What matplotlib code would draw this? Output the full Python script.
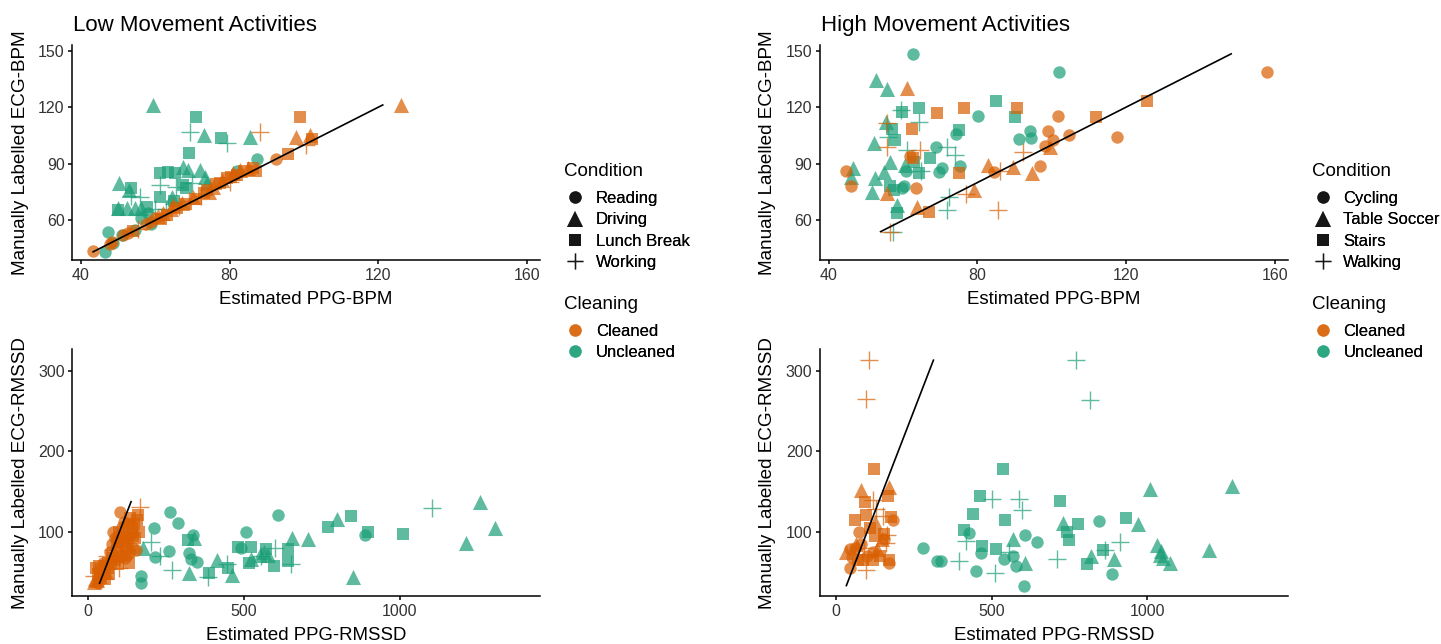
import numpy as np
import matplotlib
matplotlib.use('Agg')
import matplotlib.pyplot as plt
from matplotlib.lines import Line2D

plt.rcParams['font.family'] = ['Liberation Sans', 'DejaVu Sans']

# condition names, index 0..3 used in the point lists below
low_conditions = ['Reading', 'Driving', 'Lunch Break', 'Working']
high_conditions = ['Cycling', 'Table Soccer', 'Stairs', 'Walking']
cleaning_levels = ['Cleaned', 'Uncleaned']

# (estimated PPG, manually labelled ECG, condition index)
low_bpm_cleaned = [
    (43.3, 43.9, 0), (47.8, 47.5, 0), (48.5, 48.5, 0), (51.4, 52.2, 0), (52.7, 53.1, 0),
    (54.0, 54.5, 2), (55.5, 55.5, 3), (57.5, 57.8, 0), (59.0, 59.3, 0), (59.9, 61.0, 0),
    (60.8, 62.5, 1), (61.5, 60.5, 2), (62.1, 63.7, 1), (63.2, 62.8, 2), (64.3, 65.8, 1),
    (64.8, 68.1, 1), (65.8, 66.5, 2), (66.5, 67.5, 3), (67.3, 69.0, 1), (68.2, 68.5, 2),
    (69.0, 70.2, 3), (70.2, 72.5, 1), (71.0, 71.3, 2), (72.2, 72.8, 3), (73.0, 74.3, 2),
    (73.8, 76.0, 2), (74.5, 75.0, 1), (75.6, 77.8, 1), (76.3, 79.2, 2), (77.4, 79.6, 2),
    (78.0, 81.2, 1), (79.2, 82.3, 2), (80.0, 80.2, 3), (80.5, 83.2, 2), (81.0, 85.0, 1),
    (82.0, 84.0, 2), (82.8, 86.7, 1), (84.0, 86.0, 2), (85.0, 88.0, 1), (86.4, 87.6, 2),
    (87.0, 86.0, 2), (92.6, 92.4, 0), (95.8, 95.2, 2), (98.0, 104.4, 1), (98.9, 114.7, 2),
    (100.5, 100.0, 3), (101.6, 105.3, 1), (102.3, 103.0, 2), (126.0, 121.0, 1), (88.2, 107.0, 3),
]
low_bpm_uncleaned = [
    (59.3, 121.2, 1), (70.9, 114.7, 2), (69.3, 107.0, 3), (73.2, 105.3, 1), (77.8, 103.5, 2),
    (79.2, 101.2, 3), (85.5, 104.0, 1), (87.4, 92.5, 0), (69.0, 95.6, 2), (61.3, 85.0, 2),
    (63.5, 85.8, 2), (65.3, 85.0, 2), (67.5, 88.1, 1), (68.9, 86.7, 1), (72.0, 86.7, 1),
    (73.4, 83.1, 1), (67.5, 78.7, 2), (68.4, 77.0, 2), (61.3, 78.7, 3), (65.7, 77.8, 3),
    (61.3, 72.5, 2), (64.4, 72.5, 1), (50.3, 79.6, 1), (53.6, 77.3, 2), (53.0, 76.0, 1),
    (53.5, 73.0, 3), (50.0, 66.4, 1), (52.3, 66.4, 1), (54.5, 66.4, 1), (56.3, 66.4, 1),
    (50.0, 65.5, 2), (57.7, 67.0, 2), (55.9, 72.5, 3), (47.3, 54.0, 0), (46.5, 43.3, 0),
    (48.7, 47.8, 0), (54.5, 54.9, 0), (56.3, 61.0, 0), (58.1, 63.7, 0), (60.0, 66.0, 3),
    (63.0, 66.0, 3), (65.0, 70.0, 2), (70.0, 80.0, 3), (74.0, 80.0, 1), (82.0, 86.0, 0),
    (59.0, 58.0, 0), (51.0, 52.0, 0),
]
high_bpm_cleaned = [
    (61.0, 130.0, 1), (69.3, 116.8, 2), (76.3, 119.4, 2), (90.8, 119.4, 2), (62.4, 108.3, 2),
    (55.7, 111.5, 3), (55.7, 99.1, 3), (101.6, 115.5, 0), (98.9, 107.6, 0), (100.5, 102.6, 0),
    (98.3, 99.4, 0), (104.6, 105.3, 0), (96.9, 89.0, 0), (94.7, 84.9, 1), (89.7, 88.5, 1),
    (92.4, 96.4, 3), (83.0, 89.4, 1), (84.5, 85.8, 0), (86.0, 86.0, 3), (79.0, 76.1, 1),
    (85.7, 65.5, 3), (63.9, 67.2, 1), (67.1, 64.6, 2), (63.5, 77.3, 0), (62.8, 92.9, 2),
    (62.0, 94.0, 0), (55.7, 74.3, 1), (75.0, 85.3, 2), (44.7, 86.3, 0), (46.0, 78.4, 0),
    (56.6, 54.0, 3), (64.6, 97.3, 3), (157.8, 138.5, 0), (125.7, 123.3, 2), (117.6, 104.0, 0),
    (111.9, 115.0, 2), (99.5, 99.0, 1), (77.0, 74.0, 3),
]
high_bpm_uncleaned = [
    (62.7, 148.3, 0), (102.0, 138.9, 0), (52.8, 134.5, 1), (55.8, 129.5, 1), (59.7, 117.7, 2),
    (59.4, 118.5, 3), (64.2, 119.4, 2), (64.2, 112.4, 3), (85.1, 123.3, 2), (80.1, 115.4, 0),
    (90.2, 115.0, 2), (55.5, 112.4, 1), (57.0, 108.3, 2), (57.9, 102.6, 2), (52.1, 101.2, 1),
    (56.0, 104.0, 3), (75.0, 108.0, 2), (74.3, 105.6, 0), (91.1, 103.0, 0), (94.1, 107.6, 0),
    (94.5, 103.9, 0), (68.8, 99.1, 0), (71.8, 99.1, 3), (74.0, 94.7, 3), (67.3, 92.9, 2),
    (70.5, 87.6, 0), (69.6, 85.5, 0), (75.4, 88.8, 0), (56.4, 91.1, 1), (60.6, 89.4, 1),
    (60.9, 86.2, 0), (64.4, 84.9, 2), (65.0, 86.0, 3), (46.7, 87.6, 1), (46.0, 83.2, 1),
    (52.5, 82.3, 1), (54.8, 85.8, 1), (51.6, 75.2, 1), (56.4, 78.2, 2), (59.7, 77.0, 0),
    (60.2, 78.0, 0), (58.3, 68.1, 1), (58.3, 64.0, 2), (72.3, 72.6, 3), (71.8, 65.5, 3),
    (57.4, 54.0, 3), (61.0, 97.3, 3), (57.5, 76.0, 2), (63.0, 91.0, 2),
]
low_rmssd_cleaned = [
    (102, 125, 0), (166, 131.3, 3), (161, 121, 2), (156, 115, 2), (163, 100, 2),
    (80, 100.4, 0), (107, 106, 0), (120, 95, 0), (130, 110, 2), (140, 105, 2),
    (150, 92, 2), (145, 80, 0), (135, 75, 0), (125, 85, 1), (115, 90, 0),
    (110, 70, 0), (100, 88, 2), (95, 95, 0), (90, 80, 0), (88, 72, 1),
    (85, 65, 2), (80, 78, 3), (78, 85, 0), (75, 68, 2), (72, 60, 2),
    (70, 75, 0), (65, 62, 2), (62, 55, 2), (60, 70, 3), (58, 50, 1),
    (55, 58, 2), (50, 48, 2), (48, 62, 0), (45, 55, 3), (40, 52, 2),
    (38, 45, 1), (35, 58, 2), (30, 48, 2), (28, 40, 1), (25, 55, 2),
    (22, 42, 1), (20, 46, 3), (18, 38, 1), (30, 36.5, 0), (42, 44, 0),
    (68, 48, 2), (95, 60, 2), (105, 78, 1), (118, 68, 0), (128, 88, 2),
    (138, 97, 0), (148, 110, 2), (112, 96, 0), (92, 86, 2), (85, 92, 0),
    (120, 80, 2), (55, 42, 2), (100, 55, 3), (130, 62, 2), (145, 95, 2),
    (155, 78, 0), (135, 118, 2), (115, 112, 0), (98, 100, 2), (125, 72, 0),
]
low_rmssd_uncleaned = [
    (262, 125, 0), (289, 111.5, 0), (212, 105.3, 0), (608, 121, 0), (506, 99.6, 0),
    (335, 96.3, 0), (341, 93, 1), (321, 90, 2), (177, 79.8, 1), (260, 76.9, 0),
    (214, 69.4, 0), (324, 73.5, 0), (330, 67, 0), (350, 62.8, 0), (268, 53, 3),
    (171, 44.9, 0), (171, 36.6, 0), (323, 48.8, 1), (383, 44.7, 3), (389, 48.6, 2),
    (412, 65.3, 1), (460, 47, 1), (445, 60, 3), (450, 55, 2), (482, 81.8, 2),
    (489, 80, 0), (521, 81, 2), (524, 66, 1), (516, 62, 2), (572, 79, 2),
    (551, 71.7, 1), (565, 75.8, 1), (578, 71.7, 1), (597, 57.7, 2), (599, 80.6, 3),
    (642, 79, 2), (642, 64.6, 2), (653, 92, 1), (707, 91, 1), (770, 105.8, 2),
    (800, 116, 1), (843, 119.8, 2), (888, 96.3, 0), (899, 99.6, 2), (851, 44.6, 1),
    (1010, 97.1, 2), (1104, 130, 3), (1257, 137.6, 1), (1307, 104.5, 1), (1211, 86.8, 1),
    (200, 88, 3), (230, 70, 3), (650, 60, 3), (555, 70, 3),
]
high_rmssd_cleaned = [
    (107, 313, 3), (98, 264.4, 3), (123, 177.7, 2), (80.5, 152, 1), (172, 156, 1),
    (168, 145, 2), (93, 137.6, 2), (120, 140, 3), (130, 128, 3), (97, 121.5, 2),
    (126, 113, 1), (61, 115.5, 2), (184, 115.5, 0), (178, 119, 2), (75, 100.2, 0),
    (149, 91, 1), (155, 98, 2), (165, 96, 3), (46, 79.3, 0), (120, 75, 0),
    (86, 65, 2), (46, 55, 0), (172, 65, 2), (172, 61, 0), (98, 53, 3),
    (34, 75, 1), (52, 69, 0), (131, 79, 1), (80, 85, 0), (160, 86, 3),
    (120, 65, 2), (155, 91, 0), (60, 80, 0), (100, 70, 0), (140, 70, 2),
    (70, 65, 2), (90, 80, 3), (125, 95, 2), (150, 120, 3), (65, 85, 1),
    (110, 105, 2),
]
high_rmssd_uncleaned = [
    (771, 313, 3), (814, 264, 3), (537, 177.7, 2), (462, 145, 2), (501, 141, 3),
    (588, 141, 3), (596, 127, 3), (439, 122, 2), (544, 115.5, 2), (410, 102, 2),
    (428, 98.6, 0), (570, 91, 1), (608, 95.8, 0), (645, 88, 0), (468, 83, 2),
    (513, 79.5, 2), (465, 74, 0), (281, 80, 0), (323, 63.8, 0), (338, 64.6, 0),
    (396, 64, 3), (417, 89, 3), (449, 51.5, 0), (510, 49, 3), (538, 66.6, 0),
    (570, 70.7, 0), (579, 58.3, 0), (608, 61, 1), (605, 33.6, 0), (555, 75, 3),
    (711, 66.6, 3), (719, 138, 2), (730, 111, 1), (743, 99.5, 2), (748, 90, 2),
    (778, 109.7, 2), (846, 114, 0), (806, 60.6, 2), (818, 70.7, 1), (857, 77.6, 2),
    (865, 78, 3), (894, 67, 1), (885, 48.5, 0), (912, 88, 3), (932, 117.9, 2),
    (969, 110, 1), (1009, 152.8, 1), (1032, 84, 1), (1040, 72, 1), (1049, 68, 1),
    (1072, 62, 1), (1197, 78, 1), (1270, 157, 1), (1042, 76, 1),
]

clean_colors = {'Cleaned': '#D95F02', 'Uncleaned': '#1B9E77'}
markers = ['o', '^', 's', '+']
msizes = [80, 118, 70, 150]
ALPHA = 0.7
W, H = 1441, 644


def draw_panel(ax, cleaned, uncleaned, xlim, ylim, xticks, yticks):
    for name, pts in (('Uncleaned', uncleaned), ('Cleaned', cleaned)):
        arr = np.array(pts, dtype=float)
        for k in range(4):
            sel = arr[arr[:, 2] == k]
            if len(sel) == 0:
                continue
            if markers[k] == '+':
                ax.scatter(sel[:, 0], sel[:, 1], marker='+', s=msizes[k],
                           color=clean_colors[name], alpha=ALPHA, linewidths=1.0)
            else:
                ax.scatter(sel[:, 0], sel[:, 1], marker=markers[k], s=msizes[k],
                           color=clean_colors[name], alpha=ALPHA, linewidths=0)
    # identity line over the range of the reference values
    ally = np.concatenate([np.array(cleaned)[:, 1], np.array(uncleaned)[:, 1]])
    lo, hi = ally.min(), ally.max()
    ax.plot([lo, hi], [lo, hi], color='black', lw=1.2)
    ax.set_xlim(*xlim)
    ax.set_ylim(*ylim)
    ax.set_xticks(xticks)
    ax.set_yticks(yticks)
    for s in ('top', 'right'):
        ax.spines[s].set_visible(False)
    for s in ('left', 'bottom'):
        ax.spines[s].set_linewidth(1.1)
    ax.tick_params(length=3, width=1.1, pad=2.5, labelsize=11.5, labelcolor='#333333')


fig = plt.figure(figsize=(W / 100, H / 100), dpi=100)


def fx(px):
    return px / W


def fy(py):
    return 1 - py / H


top_xlim, top_ylim = (37.7, 163.5), (38.8, 153.0)
bot_xlim, bot_ylim = (-51, 1450), (20.7, 326.5)

ax_tl = fig.add_axes([fx(72.3), fy(260.3), 467.7 / W, 215.3 / H])
ax_tr = fig.add_axes([fx(820), fy(260.3), 467.7 / W, 215.3 / H])
ax_bl = fig.add_axes([fx(72.3), fy(596), 467.7 / W, 246.7 / H])
ax_br = fig.add_axes([fx(820), fy(596), 467.7 / W, 246.7 / H])

draw_panel(ax_tl, low_bpm_cleaned, low_bpm_uncleaned, top_xlim, top_ylim, [40, 80, 120, 160], [60, 90, 120, 150])
draw_panel(ax_tr, high_bpm_cleaned, high_bpm_uncleaned, top_xlim, top_ylim, [40, 80, 120, 160], [60, 90, 120, 150])
draw_panel(ax_bl, low_rmssd_cleaned, low_rmssd_uncleaned, bot_xlim, bot_ylim, [0, 500, 1000], [100, 200, 300])
draw_panel(ax_br, high_rmssd_cleaned, high_rmssd_uncleaned, bot_xlim, bot_ylim, [0, 500, 1000], [100, 200, 300])

# titles and axis labels
fig.text(fx(72.7), fy(30.7), 'Low Movement Activities', fontsize=16, va='baseline', ha='left')
fig.text(fx(821), fy(30.7), 'High Movement Activities', fontsize=16, va='baseline', ha='left')
for cx in (306, 1054):
    fig.text(fx(cx), fy(304), 'Estimated PPG-BPM', fontsize=13.4, ha='center', va='baseline')
    fig.text(fx(cx), fy(640.5), 'Estimated PPG-RMSSD', fontsize=13.4, ha='center', va='baseline')
for lx in (20.5, 767):
    fig.text(fx(lx), fy(152.7), 'Manually Labelled ECG-BPM', fontsize=13.6, rotation=90, ha='center', va='center')
    fig.text(fx(lx), fy(472.7), 'Manually Labelled ECG-RMSSD', fontsize=13.6, rotation=90, ha='center', va='center')

# legends
for left, conds in ((564, low_conditions), (1311.7, high_conditions)):
    fig.text(fx(left), fy(176), 'Condition', fontsize=13.5, va='baseline', ha='left')
    fig.text(fx(left), fy(309.3), 'Cleaning', fontsize=13.5, va='baseline', ha='left')
    cond_handles = []
    for k, lab in enumerate(conds):
        if markers[k] == '+':
            h = Line2D([], [], ls='', marker='+', ms=12, mew=1.0, color='black', alpha=ALPHA, label=lab)
        else:
            h = Line2D([], [], ls='', marker=markers[k], ms=np.sqrt(msizes[k]), mew=0,
                       color='black', alpha=ALPHA, label=lab)
        cond_handles.append(h)
    clean_handles = [Line2D([], [], ls='', marker='o', ms=np.sqrt(msizes[0]), mew=0,
                            color=clean_colors[c], alpha=ALPHA, label=c) for c in cleaning_levels]
    leg1 = fig.legend(handles=cond_handles, loc='center left', bbox_to_anchor=(fx(left), fy(230.5)),
                      frameon=False, fontsize=12, borderpad=0, borderaxespad=0,
                      handlelength=1.32, handletextpad=0.58, labelspacing=0.38)
    fig.add_artist(leg1)
    leg2 = fig.legend(handles=clean_handles, loc='center left', bbox_to_anchor=(fx(left), fy(341.7)),
                      frameon=False, fontsize=12, borderpad=0, borderaxespad=0,
                      handlelength=1.32, handletextpad=0.58, labelspacing=0.38)
    fig.add_artist(leg2)

fig.savefig('out.png', dpi=100)
